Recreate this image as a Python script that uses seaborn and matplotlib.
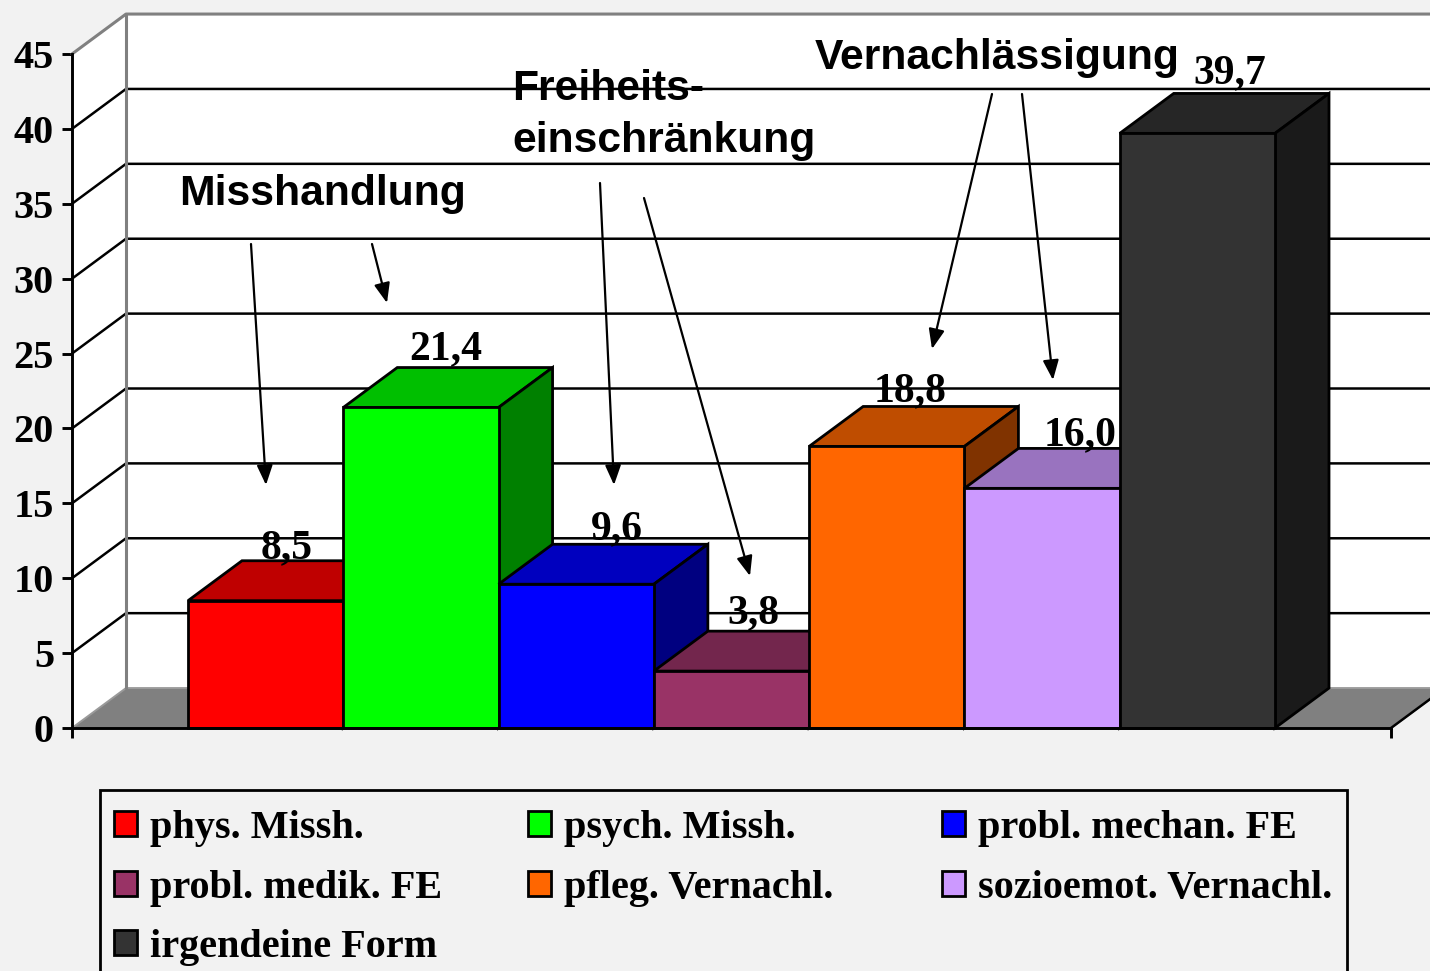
import matplotlib
matplotlib.use("Agg")
import matplotlib.pyplot as plt
from matplotlib.colors import to_rgb
from matplotlib.lines import Line2D
from matplotlib.patches import Patch, Polygon, Rectangle
import pandas as pd
import seaborn as sns

categories = ["phys. Missh.", "psych. Missh.", "probl. mechan. FE", "probl. medik. FE",
              "pfleg. Vernachl.", "sozioemot. Vernachl.", "irgendeine Form"]
values = [8.5, 21.4, 9.6, 3.8, 18.8, 16.0, 39.7]
value_labels = ["8,5", "21,4", "9,6", "3,8", "18,8", "16,0", "39,7"]
colors = ["#FF0000", "#00FF00", "#0000FF", "#993366", "#FF6600", "#CC99FF", "#333333"]
y_ticks = [0, 5, 10, 15, 20, 25, 30, 35, 40, 45]

W, H = 1430, 971
BG = "#F2F2F2"
EDGE = 2.0

sns.set_theme(style="ticks", rc={"figure.facecolor": BG, "savefig.facecolor": BG})
plt.rcParams["font.family"] = ["Liberation Serif", "DejaVu Serif"]


def fx(px):
    return px / W


def fy(py):
    return 1 - py / H


def shade(color, k):
    return tuple(c * k for c in to_rgb(color))


fig = plt.figure(figsize=(W / 100, H / 100), dpi=100)
ax = fig.add_axes([fx(72), fy(728), (1391 - 72) / W, (728 - 54) / H])
ax.patch.set_visible(False)

df = pd.DataFrame({"Form": categories, "Wert": values})
sns.barplot(data=df, x="Form", y="Wert", hue="Form", palette=colors, width=1, saturation=1,
            edgecolor="black", linewidth=EDGE, errorbar=None, legend=False, ax=ax)

# axis range so the bars sit between 188 and 1275 px
unit = (1275 - 188) / len(categories)
margin = (188 - 72) / unit
ax.set_xlim(-0.5 - margin, len(categories) - 0.5 + margin)
ax.set_ylim(0, 45)
x0, x1 = ax.get_xlim()

# depth of the fake 3d box
dx = 54 / unit
dy = 40 / 15

# walls and floor
ax.add_patch(Polygon([(x0, 0), (x0, 45), (x0 + dx, 45 + dy), (x0 + dx, dy)], closed=True,
                     fc="white", ec="none", clip_on=False, zorder=0))
ax.add_patch(Rectangle((x0 + dx, dy), x1 - x0, 45, fc="white", ec="none", clip_on=False, zorder=0))
ax.add_patch(Polygon([(x0, 0), (x1, 0), (x1 + dx, dy), (x0 + dx, dy)], closed=True,
                     fc="#808080", ec="#9A9A9A", lw=1.4, clip_on=False, zorder=1))
for v in y_ticks[1:-1]:
    ax.add_line(Line2D([x0, x0 + dx, x1 + dx], [v, v + dy, v + dy], color="black", lw=1.8,
                       clip_on=False, zorder=2))
ax.add_line(Line2D([x0, x0 + dx, x1 + dx], [45, 45 + dy, 45 + dy], color="#808080", lw=2.2,
                   clip_on=False, zorder=2))
ax.add_line(Line2D([x0 + dx, x0 + dx], [dy, 45 + dy], color="#808080", lw=2.2, clip_on=False, zorder=2))
ax.add_line(Line2D([x1, x1 + dx], [0, dy], color="black", lw=1.8, clip_on=False, zorder=2))

# top and side faces, left to right so each bar covers the previous one
for i, bar in enumerate(ax.patches[:len(categories)]):
    left, w, h = bar.get_x(), bar.get_width(), bar.get_height()
    right = left + w
    z = 10 + 2 * i
    bar.set_zorder(z + 1)
    bar.set_clip_on(False)
    ax.add_patch(Polygon([(left, h), (right, h), (right + dx, h + dy), (left + dx, h + dy)], closed=True,
                         fc=shade(colors[i], 0.75), ec="black", lw=EDGE, clip_on=False, zorder=z))
    ax.add_patch(Polygon([(right, 0), (right + dx, dy), (right + dx, h + dy), (right, h)], closed=True,
                         fc=shade(colors[i], 0.5), ec="black", lw=EDGE, clip_on=False, zorder=z))

# value labels above the back edge of each bar
label_shift = [(21, 3), (25, 8), (41, 5), (22, 8), (23, 5), (38, 3), (32, 10)]
for i, bar in enumerate(ax.patches[:len(categories)]):
    ax.annotate(value_labels[i], (bar.get_x() + bar.get_width() / 2, bar.get_height() + dy),
                xytext=label_shift[i], textcoords="offset pixels", ha="center", va="baseline",
                fontsize=30, fontweight="bold", color="black", annotation_clip=False, zorder=40)

# axes
sns.despine(ax=ax, top=True, right=True)
for side in ("left", "bottom"):
    ax.spines[side].set_linewidth(2.1)
    ax.spines[side].set_color("black")
    ax.spines[side].set_zorder(50)
ax.set_xlabel("")
ax.set_ylabel("")
ax.set_yticks(y_ticks)
ax.set_xticks([x0, x1])
ax.set_xticklabels(["", ""])
ax.tick_params(axis="both", direction="out", length=7.5, width=2.1, color="black")
ax.tick_params(axis="y", pad=5.5, labelsize=29, labelcolor="black")
for t in ax.get_yticklabels():
    t.set_fontweight("bold")

# headings and arrows
headings = [("Misshandlung", 179, 205), ("Freiheits-", 512, 100), ("einschränkung", 512, 152),
            ("Vernachlässigung", 815, 69)]
for text, px, py in headings:
    fig.text(fx(px), fy(py), text, family=["Liberation Sans", "DejaVu Sans"], fontweight="bold",
             fontsize=30.7, color="black", va="baseline", ha="left", zorder=60)

arrows = [((251, 244), (266, 485)), ((372, 244), (387, 303)), ((600, 183), (614, 485)),
          ((644, 198), (750, 576)), ((992, 94), (932, 349)), ((1022, 94), (1053, 380))]
for (sx, sy), (ex, ey) in arrows:
    ax.annotate("", xy=(fx(ex), fy(ey)), xytext=(fx(sx), fy(sy)), xycoords="figure fraction",
                textcoords="figure fraction", annotation_clip=False, zorder=45,
                arrowprops=dict(arrowstyle="-|>,head_length=0.75,head_width=0.3", lw=1.6, color="black",
                                shrinkA=0, shrinkB=0, mutation_scale=16))

# legend box and one frameless legend per column, columns are evenly spaced
fig.add_artist(Rectangle((fx(100), fy(975)), (1347 - 100) / W, (975 - 790) / H, transform=fig.transFigure,
                         fc="none", ec="black", lw=2.0))
for c, col_x in enumerate([106, 520, 934]):
    idx = range(c, len(categories), 3)
    handles = [Patch(fc=colors[i], ec="black", lw=2.0, label=categories[i]) for i in idx]
    leg = fig.legend(handles=handles, loc="upper left", bbox_to_anchor=(fx(col_x), fy(802)), frameon=False,
                     fontsize=29, ncol=1, handlelength=0.58, handleheight=0.58, handletextpad=0.32,
                     labelspacing=0.56, borderpad=0.2, borderaxespad=0)
    for t in leg.get_texts():
        t.set_fontweight("bold")
        t.set_color("black")

plt.savefig("out.png", dpi=100)
